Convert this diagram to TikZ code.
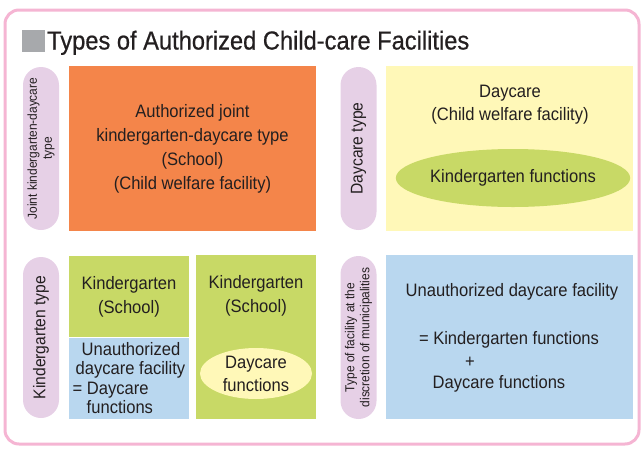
\documentclass[tikz,border=0pt]{standalone}
\usepackage{fontspec}
\setmainfont[FakeStretch=0.92]{Liberation Sans}
\newfontfamily\titlefont[FakeStretch=0.91, FakeBold=0.6]{Liberation Sans}
\usetikzlibrary{shapes.geometric, positioning}
\definecolor{framepink}{HTML}{F5B5D3}
\definecolor{markgray}{HTML}{A7A9AC}
\definecolor{ink}{HTML}{231F20}
\definecolor{lavender}{HTML}{E6D0E6}
\definecolor{jointorange}{HTML}{F4854A}
\definecolor{cream}{HTML}{FFF8B8}
\definecolor{leaf}{HTML}{C8D966}
\definecolor{sky}{HTML}{B9D7EF}
\tikzset{
	box/.style={inner sep=0pt, align=center, text=ink, font=\fontsize{18}{24}\selectfont},
	pill/.style={rounded corners=18pt, fill=lavender, rotate=90, inner sep=0pt, minimum height=36, align=center, text=ink, font=\fontsize{17}{20}\selectfont},
	smallpill/.style={pill, font=\fontsize{13}{15}\selectfont},
	func/.style={ellipse, inner sep=0pt, align=center, text=ink, font=\fontsize{18}{23}\selectfont}
}
\begin{document}
\begin{tikzpicture}[x=1pt,y=-1pt]
	\useasboundingbox (0,0) rectangle (641,448);
	\draw[framepink, line width=3pt, rounded corners=14pt] (5,10) rectangle (639,444);
	\fill[markgray] (22,30) rectangle (45,51.5);
	\node[anchor=base west, inner sep=0pt, text=ink, font=\titlefont\fontsize{26}{30}\selectfont] (title) at (47,49.5) {Types of Authorized Child-care Facilities};

	\node[smallpill, minimum width=163] (jointtag) at (41,148.5) {Joint kindergarten-daycare\\type};
	\node[box, fill=jointorange, minimum width=247, minimum height=165] (joint) at (192.5,148.5) {Authorized joint\\kindergarten-daycare type\\(School)\\(Child welfare facility)};

	\node[pill, minimum width=163] (daycaretag) at (358.5,148.5) {Daycare type};
	\node[box, fill=cream, minimum width=247, minimum height=165] (daycare) at (509.5,148.5) {};
	\node[box, font=\fontsize{18}{23}\selectfont] (daycaretext) at (510,104.5) {Daycare\\(Child welfare facility)};
	\node[func, fill=leaf, minimum width=203, minimum height=58] (kfunc) at (513,178) {Kindergarten functions};

	\node[pill, minimum width=161] (kindtag) at (41,337.5) {Kindergarten type};
	\node[box, fill=leaf, minimum width=120, minimum height=81] (kind) at (129,296.5) {Kindergarten\\(School)};
	\node[box, fill=sky, minimum width=120, minimum height=81, align=left, font=\fontsize{18}{19.5}\selectfont] (kindsub) at (129,378) {\hspace*{9pt}Unauthorized\\\hspace*{3pt}daycare facility\\= Daycare\\\hspace*{14pt}functions};

	\node[box, fill=leaf, minimum width=120, minimum height=164] (kindfull) at (256,337) {};
	\node[box] (kindfulltext) at (256,295.5) {Kindergarten\\(School)};
	\node[func, fill=cream, minimum width=112, minimum height=51] (dfunc) at (256,373.5) {Daycare\\functions};

	\node[smallpill, minimum width=163] (localtag) at (358.5,337.5) {Type of facility at the\\discretion of municipalities};
	\node[box, fill=sky, minimum width=247, minimum height=164] (local) at (509.5,337) {};
	\node[box] (localname) at (512,292) {Unauthorized daycare facility};
	\node[box] (localk) at (509,340) {= Kindergarten functions};
	\node[box] (localplus) at (470,362) {+};
	\node[box] (locald) at (499,384) {Daycare functions};
\end{tikzpicture}
\end{document}
